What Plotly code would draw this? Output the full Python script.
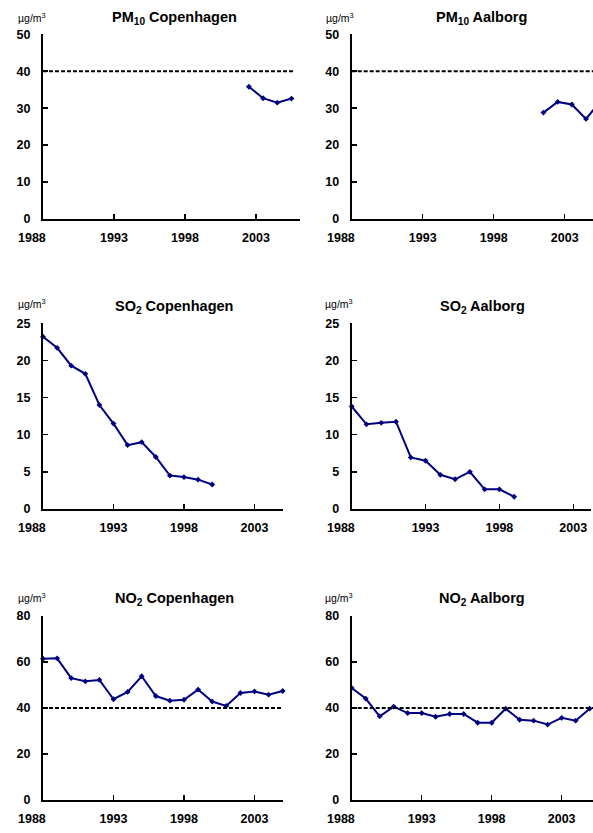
import plotly.graph_objects as go

# ---------------- data ----------------
tick_years = [1988, 1993, 1998, 2003]
limit_value = 40

pm10_cph_years = [2002, 2003, 2004, 2005]
pm10_cph_vals = [35.8, 32.7, 31.5, 32.6]
pm10_aal_years = [2001, 2002, 2003, 2004, 2005]
pm10_aal_vals = [28.8, 31.7, 31.0, 27.1, 31.8]

so2_cph_years = list(range(1988, 2001))
so2_cph_vals = [23.2, 21.7, 19.3, 18.2, 14.0, 11.5, 8.6, 9.0, 7.0, 4.5, 4.3, 3.95, 3.3]
so2_aal_years = list(range(1988, 2000))
so2_aal_vals = [13.8, 11.4, 11.6, 11.75, 6.95, 6.5, 4.6, 4.0, 5.0, 2.65, 2.65, 1.65]

no2_cph_years = list(range(1988, 2006))
no2_cph_vals = [61.4, 61.6, 53.0, 51.6, 52.2, 43.8, 47.0, 53.8, 45.2, 43.2, 43.6, 48.0,
                42.8, 40.9, 46.5, 47.2, 45.8, 47.4]
no2_aal_years = list(range(1988, 2006))
no2_aal_vals = [48.7, 44.1, 36.4, 40.6, 37.8, 37.8, 36.2, 37.4, 37.4, 33.6, 33.6, 39.7,
                34.9, 34.5, 32.8, 35.7, 34.5, 39.7]

titles = ["PM<sub>10</sub> Copenhagen", "PM<sub>10</sub> Aalborg",
          "SO<sub>2</sub> Copenhagen", "SO<sub>2</sub> Aalborg",
          "NO<sub>2</sub> Copenhagen", "NO<sub>2</sub> Aalborg"]
unit = "µg/m<sup>3</sup>"

# ---------------- layout geometry (pixels) ----------------
W, H = 593, 833
NAVY = "#000080"
FONT = "Liberation Sans, Arial, sans-serif"
TICK_SIZE = 12.5

def px_x(p):
    return p / W

def px_y(p):
    return 1 - p / H

panels = [
    # (x0px, x1px, ytop_px, ybot_px, xrange, yrange, ytickstep)
    (43, 300, 34.3, 219, [1988, 2006.1], [0, 50], 10),
    (351.7, 593, 34.3, 219, [1988, 2004.99], [0, 50], 10),
    (43, 282.7, 323.3, 509, [1988, 2005], [0, 25], 5),
    (351.7, 591, 323.3, 509, [1988, 2004.2], [0, 25], 5),
    (43, 282.7, 616, 800, [1988, 2005], [0, 80], 20),
    (351.7, 593, 616, 800, [1988, 2005.24], [0, 80], 20),
]

series = [
    ([y + 0.5 for y in pm10_cph_years], pm10_cph_vals, True),
    ([y + 0.5 for y in pm10_aal_years], pm10_aal_vals, True),
    (so2_cph_years, so2_cph_vals, False),
    (so2_aal_years, so2_aal_vals, False),
    (no2_cph_years, no2_cph_vals, False),
    (no2_aal_years, no2_aal_vals, True),
]

limit_ends = [2005.75, None, None, None, 2005, None]

title_pos = [(174, 18), (481, 18), (174, 307), (482, 307), (174, 599), (482, 599)]
unit_pos = [(16, 17), (324, 17), (16, 303), (323, 303), (16, 597), (323, 597)]

fig = go.Figure()
layout = dict(
    width=W, height=H, autosize=False,
    margin=dict(l=0, r=0, t=0, b=0, pad=0),
    paper_bgcolor="white", plot_bgcolor="white",
    showlegend=False, hovermode=False,
    font=dict(family=FONT, color="black"),
)
annotations = []
shapes = []

for i, (panel, ser) in enumerate(zip(panels, series)):
    n = i + 1
    xa = "xaxis" if n == 1 else f"xaxis{n}"
    ya = "yaxis" if n == 1 else f"yaxis{n}"
    xr = "x" if n == 1 else f"x{n}"
    yr = "y" if n == 1 else f"y{n}"
    x0, x1, yt, yb, xrange, yrange, step = panel
    layout[xa] = dict(
        domain=[max(0, px_x(x0)), min(1, px_x(x1))], anchor=yr, range=xrange,
        tickvals=tick_years,
        ticktext=["" if t == tick_years[0] else str(t) for t in tick_years],
        showline=True, linecolor="black", linewidth=2,
        ticks="inside", ticklen=5, tickwidth=1.5, tickcolor="black",
        showgrid=False, zeroline=False, automargin=False,
        tickfont=dict(family=FONT, size=TICK_SIZE, color="black", weight="bold"),
        ticklabelstandoff=6, fixedrange=True,
    )
    layout[ya] = dict(
        domain=[max(0, px_y(yb)), min(1, px_y(yt))], anchor=xr, range=yrange,
        tickvals=list(range(yrange[0], yrange[1] + 1, step)),
        showline=True, linecolor="black", linewidth=2,
        ticks="inside", ticklen=5, tickwidth=1.5, tickcolor="black",
        showgrid=False, zeroline=False, automargin=False,
        tickfont=dict(family=FONT, size=TICK_SIZE, color="black", weight="bold"),
        ticklabelstandoff=8, fixedrange=True,
    )
    xs, ys, clip = ser
    fig.add_trace(go.Scatter(
        x=xs, y=ys, xaxis=xr, yaxis=yr, mode="lines+markers",
        line=dict(color=NAVY, width=2),
        marker=dict(symbol="diamond", size=4.5, color=NAVY),
        cliponaxis=clip, hoverinfo="skip",
    ))
    # limit value line for PM10 and NO2
    if yrange[1] in (50, 80):
        xend = limit_ends[i] if limit_ends[i] is not None else xrange[1]
        shapes.append(dict(
            type="line", xref=xr, yref=yr, x0=xrange[0], x1=xend,
            y0=limit_value, y1=limit_value,
            line=dict(color="black", width=2, dash="4px,2px"),
        ))
    # first year label sits left of the y axis in the original
    annotations.append(dict(
        text=f"<b>{tick_years[0]}</b>", xref=xr, x=tick_years[0],
        yref=f"{yr} domain", y=0, xanchor="center", yanchor="middle",
        xshift=-11, yshift=-19, showarrow=False,
        font=dict(family=FONT, size=TICK_SIZE, color="black"),
    ))
    tx, ty = title_pos[i]
    annotations.append(dict(
        text="<b>" + titles[i] + "</b>", xref="paper", yref="paper",
        x=px_x(tx), y=px_y(ty), xanchor="center", yanchor="middle",
        showarrow=False, font=dict(family=FONT, size=14.5, color="black"),
    ))
    ux, uy = unit_pos[i]
    annotations.append(dict(
        text=unit, xref="paper", yref="paper",
        x=px_x(ux), y=px_y(uy), xanchor="left", yanchor="middle",
        showarrow=False, font=dict(family=FONT, size=10.5, color="black"),
    ))

layout["annotations"] = annotations
layout["shapes"] = shapes
fig.update_layout(**layout)
fig.write_html(
    "out.html",
    config={"displayModeBar": False, "staticPlot": True},
    post_script="document.body.style.margin='0';document.body.style.overflow='hidden';",
)
